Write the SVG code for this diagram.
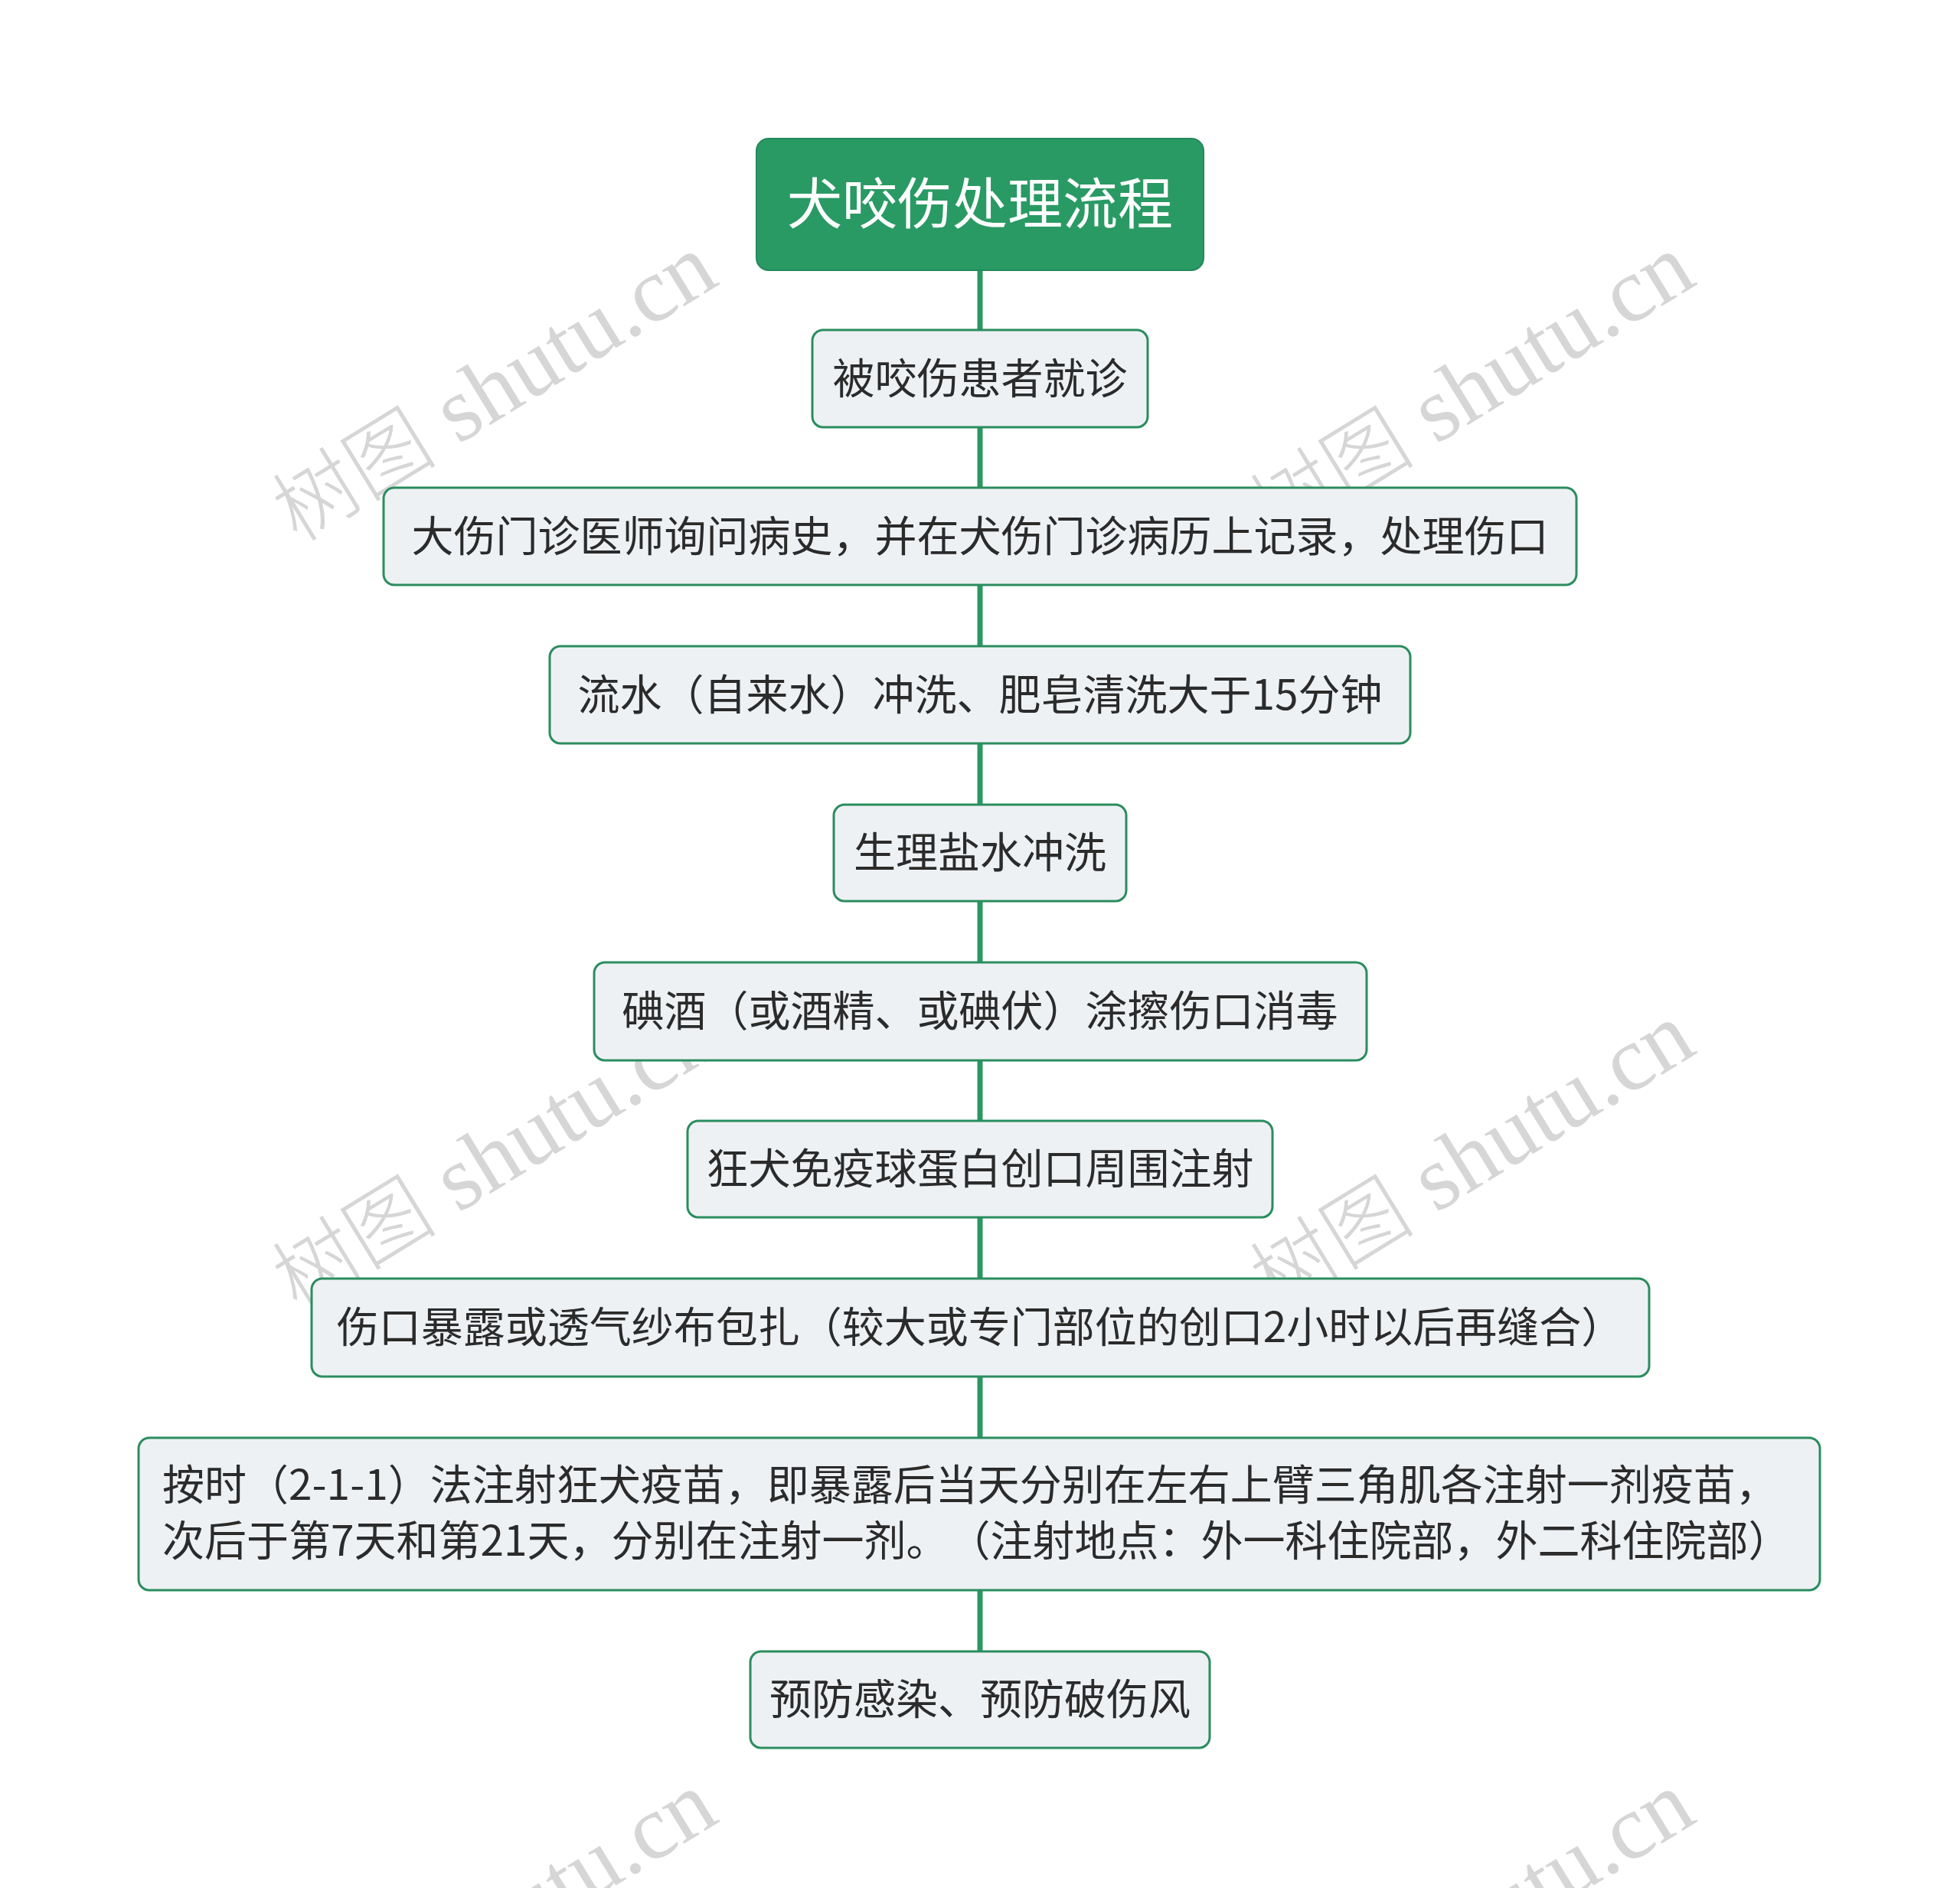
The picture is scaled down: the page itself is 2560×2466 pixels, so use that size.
<svg xmlns="http://www.w3.org/2000/svg" width="2560" height="2466" viewBox="0 0 2560 2466">
<style>
.wm{font-family:"Liberation Serif","Noto Sans CJK SC",serif;font-size:120px;fill:#d6d6d6;}
.wmc{font-family:"Noto Sans CJK SC",serif;font-size:108px;font-weight:300;}
.conn{stroke:#2a9763;stroke-width:7;fill:none;}
.box{fill:#eef1f4;stroke:#2b8d5f;stroke-width:3;}
.root{fill:#2a9a64;stroke:#23895a;stroke-width:2;}
.t{font-family:"Noto Sans CJK SC","Microsoft YaHei",sans-serif;font-size:55px;fill:#2b2b2b;text-anchor:middle;text-spacing-trim:space-all;}
.tl{font-family:"Noto Sans CJK SC","Microsoft YaHei",sans-serif;font-size:55px;fill:#2b2b2b;text-spacing-trim:space-all;}
.rt{font-family:"Noto Sans CJK SC","Microsoft YaHei",sans-serif;font-size:72px;fill:#ffffff;text-anchor:middle;}
</style>
<rect width="2560" height="2466" fill="#ffffff"/>
<g id="watermarks">
<text class="wm" x="647" y="545" text-anchor="middle" transform="rotate(-31.5 647 510)"><tspan class="wmc">树图</tspan> shutu.cn</text>
<text class="wm" x="1924" y="545" text-anchor="middle" transform="rotate(-31.5 1924 510)"><tspan class="wmc">树图</tspan> shutu.cn</text>
<text class="wm" x="647" y="1549" text-anchor="middle" transform="rotate(-31.5 647 1514)"><tspan class="wmc">树图</tspan> shutu.cn</text>
<text class="wm" x="1924" y="1549" text-anchor="middle" transform="rotate(-31.5 1924 1514)"><tspan class="wmc">树图</tspan> shutu.cn</text>
<text class="wm" x="647" y="2553" text-anchor="middle" transform="rotate(-31.5 647 2518)"><tspan class="wmc">树图</tspan> shutu.cn</text>
<text class="wm" x="1924" y="2553" text-anchor="middle" transform="rotate(-31.5 1924 2518)"><tspan class="wmc">树图</tspan> shutu.cn</text>
</g>
<g id="connectors">
<line class="conn" x1="1280" y1="353" x2="1280" y2="431"/>
<line class="conn" x1="1280" y1="558" x2="1280" y2="637"/>
<line class="conn" x1="1280" y1="764" x2="1280" y2="844"/>
<line class="conn" x1="1280" y1="971" x2="1280" y2="1051"/>
<line class="conn" x1="1280" y1="1177" x2="1280" y2="1257"/>
<line class="conn" x1="1280" y1="1385" x2="1280" y2="1464"/>
<line class="conn" x1="1280" y1="1590" x2="1280" y2="1670"/>
<line class="conn" x1="1280" y1="1798" x2="1280" y2="1878"/>
<line class="conn" x1="1280" y1="2077" x2="1280" y2="2157"/>
</g>
<g id="root">
<rect class="root" x="988" y="181" width="584" height="172" rx="16"/>
<text class="rt" x="1280" y="292">犬咬伤处理流程</text>
</g>
<g id="n1">
<rect class="box" x="1061" y="431" width="438" height="127" rx="14"/>
<text class="t" x="1280" y="514">被咬伤患者就诊</text>
</g>
<g id="n2">
<rect class="box" x="501" y="637" width="1558" height="127" rx="14"/>
<text class="t" x="1280" y="720">大伤门诊医师询问病史，并在犬伤门诊病历上记录，处理伤口</text>
</g>
<g id="n3">
<rect class="box" x="718" y="844" width="1124" height="127" rx="14"/>
<text class="t" x="1280" y="927">流水（自来水）冲洗、肥皂清洗大于15分钟</text>
</g>
<g id="n4">
<rect class="box" x="1089" y="1051" width="382" height="126" rx="14"/>
<text class="t" x="1280" y="1133">生理盐水冲洗</text>
</g>
<g id="n5">
<rect class="box" x="776" y="1257" width="1009" height="128" rx="14"/>
<text class="t" x="1280" y="1340">碘酒（或酒精、或碘伏）涂擦伤口消毒</text>
</g>
<g id="n6">
<rect class="box" x="898" y="1464" width="764" height="126" rx="14"/>
<text class="t" x="1280" y="1546">狂犬免疫球蛋白创口周围注射</text>
</g>
<g id="n7">
<rect class="box" x="407" y="1670" width="1747" height="128" rx="14"/>
<text class="t" x="1280" y="1753">伤口暴露或透气纱布包扎（较大或专门部位的创口2小时以后再缝合）</text>
</g>
<g id="n8">
<rect class="box" x="181" y="1878" width="2196" height="199" rx="14"/>
<text class="tl" x="212" y="1959">按时（2-1-1）法注射狂犬疫苗，即暴露后当天分别在左右上臂三角肌各注射一剂疫苗，</text>
<text class="tl" x="212" y="2032">次后于第7天和第21天，分别在注射一剂。（注射地点：外一科住院部，外二科住院部）</text>
</g>
<g id="n9">
<rect class="box" x="980" y="2157" width="600" height="126" rx="14"/>
<text class="t" x="1280" y="2239">预防感染、预防破伤风</text>
</g>
</svg>
